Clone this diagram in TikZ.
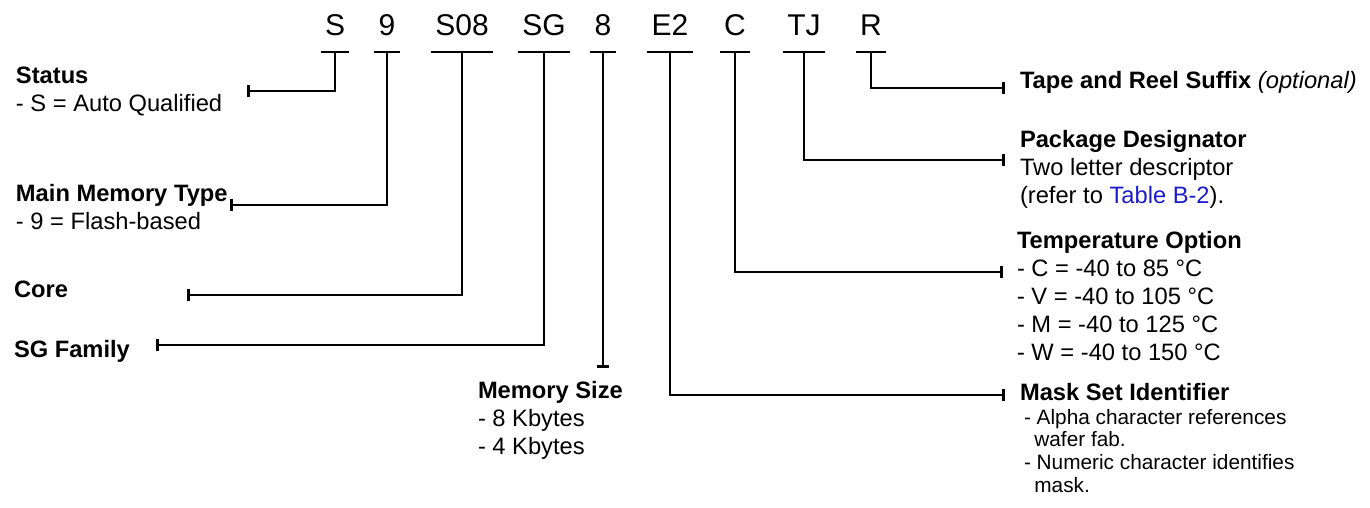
\documentclass[tikz,border=0pt]{standalone}
\usepackage{fontspec}
\setmainfont{Liberation Sans}
\usetikzlibrary{arrows.meta}
\definecolor{linkblue}{RGB}{28,28,205}

\begin{document}
\begin{tikzpicture}[
    x=0.5pt, y=-0.5pt,
    line width=1pt,
    code/.style={anchor=base, font=\fontsize{15}{18}\selectfont,
                 inner xsep=2.2pt, inner ysep=8pt, text depth=0pt, outer sep=0pt},
    lead/.style={line width=1pt, -{Bar[width=6pt, line width=1.5pt]}},
    label/.style={anchor=base west, inner sep=0pt, align=left,
                  font=\fontsize{11.85}{14}\selectfont},
    smalllabel/.style={anchor=base west, inner sep=0pt, align=left,
                       font=\fontsize{10.4}{11.3}\selectfont},
]
\useasboundingbox (0,0) rectangle (1370,508);

% --- Part number ---
\node[code] (cS)   at (335,36) {S};
\node[code] (c9)   at (387,36) {9};
\node[code] (cS08) at (462,36) {S08};
\node[code] (cSG)  at (544,36) {SG};
\node[code] (c8)   at (603,36) {8};
\node[code] (cE2)  at (670,36) {E2};
\node[code] (cC)   at (735,36) {C};
\node[code] (cTJ)  at (804,36) {TJ};
\node[code] (cR)   at (871,36) {R};

\foreach \c in {cS, c9, cS08, cSG, c8, cE2, cC, cTJ, cR}
    \draw (\c.south west) -- (\c.south east);

% --- Fields, left (placed by the baseline of their last line) ---
\node[label] (status) at (15,112)
    {\textbf{Status}\\- S = Auto Qualified};
\node[label] (memtype) at (15,229)
    {\textbf{Main Memory Type}\\- 9 = Flash-based};
\node[label] (core) at (13,297) {\textbf{Core}};
\node[label] (family) at (13,357) {\textbf{SG Family}};
\node[label] (memsize) at (477,454)
    {\textbf{Memory Size}\\- 8 Kbytes\\- 4 Kbytes};

% --- Fields, right ---
\node[label] (tape) at (1019,89)
    {\textbf{Tape and Reel Suffix} \textit{(optional)}};
\node[label] (package) at (1019,203)
    {\textbf{Package Designator}\\Two letter descriptor\\(refer to \textcolor{linkblue}{Table B-2}).};
\node[label] (temp) at (1016,360)
    {\textbf{Temperature Option}\\- C = -40 to 85 °C\\- V = -40 to 105 °C\\- M = -40 to 125 °C\\- W = -40 to 150 °C};
\node[label] (mask) at (1019,400) {\textbf{Mask Set Identifier}};
\node[smalllabel] (maskinfo) at (1023,492)
    {- Alpha character references\\\hspace{0.5em}wafer fab.\\- Numeric character identifies\\\hspace{0.5em}mask.};

% --- Leader ends ---
\coordinate (tstatus)  at (247,91);
\coordinate (tmemtype) at (230,205);
\coordinate (tcore)    at (187,295);
\coordinate (tfamily)  at (156,345);
\coordinate (tsize)    at (603,368);
\coordinate (tmask)    at (1005,395);
\coordinate (ttemp)    at (1003,272);
\coordinate (tpackage) at (1005,160);
\coordinate (ttape)    at (1005,88);

% --- Leaders ---
\draw[lead] (cS.south)   |- (tstatus);
\draw[lead] (c9.south)   |- (tmemtype);
\draw[lead] (cS08.south) |- (tcore);
\draw[lead] (cSG.south)  |- (tfamily);
\draw[lead] (c8.south)   -- (tsize);
\draw[lead] (cE2.south)  |- (tmask);
\draw[lead] (cC.south)   |- (ttemp);
\draw[lead] (cTJ.south)  |- (tpackage);
\draw[lead] (cR.south)   |- (ttape);

\end{tikzpicture}
\end{document}
